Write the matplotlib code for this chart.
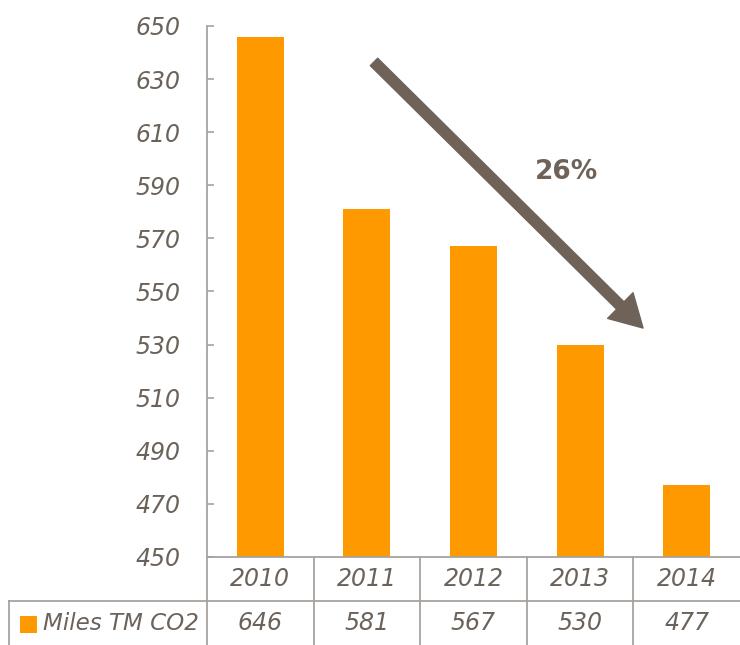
import matplotlib
matplotlib.use("Agg")
import matplotlib.pyplot as plt
import matplotlib.transforms as mtransforms
from matplotlib.patches import FancyArrowPatch, Rectangle

years = ["2010", "2011", "2012", "2013", "2014"]
values = [646, 581, 567, 530, 477]
series_name = "Miles TM CO2"
yticks = [450, 470, 490, 510, 530, 550, 570, 590, 610, 630, 650]
change_label = "26%"

BAR = "#FF9900"
TXT = "#6B625A"
LINE = "#A8A29D"
ARROW = "#6E6259"

plt.rcParams['font.family'] = ['DejaVu Sans']

fig = plt.figure(figsize=(7.4, 6.45), dpi=100)
ax = fig.add_axes([207/740, 88/645, 533/740, 531/645])

x = list(range(len(years)))
ax.bar(x, values, width=0.44, color=BAR, zorder=2)
ax.set_xlim(-0.5, len(years) - 0.5)
ax.set_ylim(450, 650)
ax.set_yticks(yticks)
ax.set_yticklabels([str(t) for t in yticks], fontsize=17, style='italic', color=TXT)
ax.tick_params(axis='y', direction='in', length=5, width=1.2, color=LINE, pad=19)
ax.set_xticks([])
for s in ['top', 'right']:
    ax.spines[s].set_visible(False)
for s in ['left', 'bottom']:
    ax.spines[s].set_color(LINE)
    ax.spines[s].set_linewidth(1.3)

# Data table below the chart
trans = mtransforms.blended_transform_factory(ax.transData, ax.transAxes)
r1 = -44/531
r2 = -88/531
lw = 1.3
# vertical boundaries (no right border)
for i in range(len(years)):
    xb = i - 0.5
    ax.plot([xb, xb], [0, r2], color=LINE, lw=lw, transform=trans, clip_on=False)
# horizontal line between rows
left_edge = -0.5 - 198/106.6
ax.plot([left_edge, len(years) - 0.5], [r1, r1], color=LINE, lw=lw, transform=trans, clip_on=False)
ax.plot([left_edge, left_edge], [r1, r2], color=LINE, lw=lw, transform=trans, clip_on=False)

for i, (yr, v) in enumerate(zip(years, values)):
    ax.text(i, r1/2, yr, transform=trans, ha='center', va='center',
            fontsize=17, style='italic', color=TXT)
    ax.text(i, (r1 + r2)/2, str(v), transform=trans, ha='center', va='center',
            fontsize=17, style='italic', color=TXT)

# legend key in the table
key_x = -0.5 - 187/106.6
ax.add_patch(Rectangle((key_x, -76/531), 17/106.6, 17/531, transform=trans,
                       facecolor=BAR, edgecolor='none', clip_on=False))
ax.text(-0.5 - 8/106.6, (r1 + r2)/2, series_name, transform=trans, ha='right', va='center',
        fontsize=16.6, style='italic', color=TXT)

# trend arrow
arrow = FancyArrowPatch((1.048, 637.2), (3.609, 535.5),
                        arrowstyle="simple,head_length=2.3,head_width=2.6,tail_width=0.75",
                        mutation_scale=10, color=ARROW, zorder=3, clip_on=False)
ax.add_patch(arrow)
ax.text(2.877, 595, change_label, ha='center', va='center', fontsize=19,
        fontweight='bold', color=ARROW)

fig.savefig("out.png", dpi=100)
